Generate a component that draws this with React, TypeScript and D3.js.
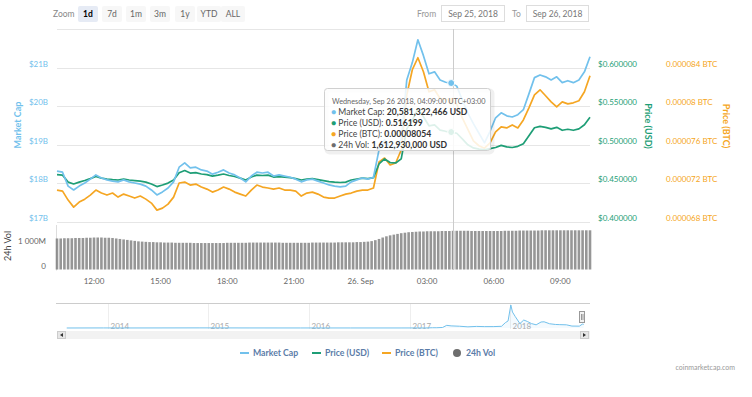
import React from 'react';
import * as d3 from 'd3';

// 15-minute samples starting Sep 25 2018 10:20 (chart local time)
const start = Date.UTC(2018, 8, 25, 10, 20);
const lineStepMin = 15;
const volStepMin = 10;

// market cap, billions USD
const marketCap = [
  18.32, 18.29, 17.93, 17.83, 17.93, 18.01, 18.11, 18.22, 18.14, 18.09,
  18.06, 18.04, 18.09, 18.04, 18.01, 17.98, 17.93, 17.83, 17.70, 17.78,
  17.88, 18.04, 18.42, 18.53, 18.40, 18.42, 18.35, 18.32, 18.24, 18.29,
  18.35, 18.27, 18.22, 18.14, 18.04, 18.19, 18.29, 18.27, 18.29, 18.19,
  18.22, 18.19, 18.16, 18.11, 18.04, 18.09, 18.11, 18.06, 18.01, 17.96,
  17.93, 17.91, 17.93, 18.04, 18.09, 18.14, 18.11, 18.16, 18.87, 19.13,
  18.94, 18.92, 19.13, 20.68, 21.13, 21.72, 21.31, 20.84, 20.89, 20.68,
  20.62, 20.60, 20.52, 20.16, 19.82, 19.55, 19.30, 19.05, 19.35, 19.70,
  19.83, 19.75, 19.72, 19.78, 19.91, 20.32, 20.74, 20.81, 20.76, 20.68,
  20.76, 20.61, 20.66, 20.61, 20.68, 20.89, 21.28,
];

const priceUsd = [
  0.4614, 0.4607, 0.4517, 0.4492, 0.4517, 0.4537, 0.4562, 0.4589, 0.4569, 0.4557,
  0.4549, 0.4544, 0.4557, 0.4544, 0.4537, 0.4529, 0.4517, 0.4492, 0.4459, 0.4479,
  0.4504, 0.4544, 0.4639, 0.4667, 0.4634, 0.4639, 0.4622, 0.4614, 0.4594, 0.4607,
  0.4622, 0.4602, 0.4589, 0.4569, 0.4544, 0.4582, 0.4607, 0.4602, 0.4607, 0.4582,
  0.4589, 0.4582, 0.4574, 0.4562, 0.4544, 0.4557, 0.4562, 0.4549, 0.4537, 0.4524,
  0.4517, 0.4512, 0.4517, 0.4544, 0.4557, 0.4569, 0.4562, 0.4574, 0.4752, 0.4817,
  0.4770, 0.4765, 0.4817, 0.5206, 0.5319, 0.5467, 0.5364, 0.5246, 0.5259, 0.5190,
  0.5175, 0.5165, 0.5150, 0.5076, 0.5000, 0.4960, 0.4945, 0.4935, 0.4950, 0.4965,
  0.4993, 0.4973, 0.4965, 0.4980, 0.5013, 0.5116, 0.5221, 0.5238, 0.5226, 0.5206,
  0.5226, 0.5188, 0.5201, 0.5188, 0.5206, 0.5259, 0.5356,
];

const priceBtc = [
  0.00007131, 0.00007120, 0.00007027, 0.00006954, 0.00007006, 0.00007037, 0.00007079, 0.00007131, 0.00007100, 0.00007079,
  0.00007100, 0.00007058, 0.00007089, 0.00007069, 0.00007048, 0.00007069, 0.00007037, 0.00006996, 0.00006923, 0.00006944,
  0.00006985, 0.00007058, 0.00007204, 0.00007214, 0.00007183, 0.00007193, 0.00007162, 0.00007141, 0.00007110, 0.00007131,
  0.00007162, 0.00007141, 0.00007110, 0.00007089, 0.00007069, 0.00007131, 0.00007183, 0.00007162, 0.00007152, 0.00007141,
  0.00007152, 0.00007131, 0.00007131, 0.00007120, 0.00007069, 0.00007100, 0.00007110, 0.00007089, 0.00007058, 0.00007048,
  0.00007048, 0.00007069, 0.00007089, 0.00007100, 0.00007120, 0.00007131, 0.00007131, 0.00007152, 0.00007422, 0.00007463,
  0.00007391, 0.00007411, 0.00007546, 0.00008118, 0.00008378, 0.00008502, 0.00008357, 0.00008149, 0.00008170, 0.00008080,
  0.00008070, 0.00008055, 0.00008020, 0.00007879, 0.00007760, 0.00007640, 0.00007590, 0.00007565, 0.00007620, 0.00007733,
  0.00007785, 0.00007775, 0.00007806, 0.00007775, 0.00007858, 0.00007983, 0.00008118, 0.00008170, 0.00008108, 0.00008045,
  0.00007993, 0.00008045, 0.00008024, 0.00008035, 0.00008056, 0.00008149, 0.00008315,
];

// 24h volume, billions USD, 10-minute samples
const volume24h = [
  1.29, 1.29, 1.30, 1.30, 1.30, 1.31, 1.31, 1.31, 1.32, 1.32, 1.33, 1.33,
  1.33, 1.32, 1.32, 1.31, 1.29, 1.27, 1.25, 1.23, 1.21, 1.19, 1.17, 1.16,
  1.15, 1.14, 1.14, 1.13, 1.13, 1.12, 1.12, 1.12, 1.11, 1.11, 1.11, 1.11,
  1.11, 1.10, 1.10, 1.10, 1.10, 1.10, 1.10, 1.10, 1.10, 1.10, 1.11, 1.11,
  1.11, 1.11, 1.11, 1.11, 1.12, 1.12, 1.12, 1.12, 1.12, 1.12, 1.12, 1.12,
  1.12, 1.11, 1.11, 1.11, 1.11, 1.11, 1.11, 1.11, 1.11, 1.12, 1.12, 1.12,
  1.12, 1.12, 1.12, 1.12, 1.13, 1.13, 1.13, 1.13, 1.13, 1.14, 1.14, 1.15,
  1.16, 1.18, 1.22, 1.27, 1.33, 1.38, 1.42, 1.45, 1.48, 1.51, 1.53, 1.55,
  1.56, 1.57, 1.58, 1.58, 1.59, 1.59, 1.59, 1.59, 1.60, 1.60, 1.60, 1.61,
  1.61, 1.61, 1.61, 1.61, 1.60, 1.60, 1.60, 1.60, 1.60, 1.60, 1.60, 1.60,
  1.60, 1.61, 1.61, 1.61, 1.61, 1.62, 1.62, 1.62, 1.62, 1.62, 1.62, 1.63,
  1.63, 1.63, 1.63, 1.63, 1.63, 1.63, 1.63, 1.63, 1.63, 1.63, 1.63, 1.63,
  1.63,
];

// navigator: all-time market cap, billions USD
const navDates = [
  '2013-08-04', '2013-12-15', '2014-03-01', '2014-12-01', '2015-06-01', '2015-12-01',
  '2016-06-01', '2016-12-01', '2017-03-01', '2017-03-25', '2017-04-10', '2017-05-01',
  '2017-05-16', '2017-06-01', '2017-07-01', '2017-08-01', '2017-09-01', '2017-10-01',
  '2017-11-01', '2017-12-01', '2017-12-15', '2017-12-25', '2018-01-04', '2018-01-10',
  '2018-01-20', '2018-02-06', '2018-02-20', '2018-03-05', '2018-03-20', '2018-04-06',
  '2018-04-24', '2018-05-05', '2018-05-25', '2018-06-15', '2018-07-01', '2018-07-25',
  '2018-08-14', '2018-09-10', '2018-09-21', '2018-09-26',
];
const navCaps = [
  0.05, 0.4, 0.15, 0.7, 0.3, 0.2,
  0.25, 0.24, 0.3, 1.5, 1.5, 3.0,
  15, 12, 10, 6.6, 9, 7.8,
  7.9, 9.5, 30, 40, 130, 90,
  65, 25, 45, 37, 25, 18,
  34, 35, 24, 20, 19, 18,
  11, 10.5, 22, 20.6,
];
const navYears = [2014, 2015, 2016, 2017, 2018];

const mcapTicks = [17, 18, 19, 20, 21];
const usdTicks = [0.4, 0.45, 0.5, 0.55, 0.6];
const btcTicks = [0.000068, 0.000072, 0.000076, 0.00008, 0.000084];
const btcTickLabels = ['0.000068', '0.000072', '0.000076', '0.00008', '0.000084'];
const zoomButtons = ['1d', '7d', '1m', '3m', '1y', 'YTD', 'ALL'];

const tooltipHeader = 'Wednesday, Sep 26 2018, 04:09:00 UTC+03:00';
const tooltipTime = Date.UTC(2018, 8, 26, 4, 9);
const tooltipRows = [
  { label: 'Market Cap: ', value: '20,581,322,466 USD' },
  { label: 'Price (USD): ', value: '0.516199' },
  { label: 'Price (BTC): ', value: '0.00008054' },
  { label: '24h Vol: ', value: '1,612,930,000 USD' },
];
const legendNames = ['Market Cap', 'Price (USD)', 'Price (BTC)', '24h Vol'];

const C_MCAP = '#72c1ec';
const C_USD = '#1e9e76';
const C_BTC = '#f5a623';
const C_VOL = '#6e6e6e';
const FONT = 'Lato, "Open Sans", sans-serif';

export default function App() {
  const W = 752, H = 397;
  const left = 57, right = 590;
  const top = 29, bottom = 222;
  const vTop = 225, vBottom = 269.5;

  const x = d3.scaleUtc()
    .domain([new Date(start), new Date(start + 24 * 3600e3)])
    .range([left, right]);
  const yM = d3.scaleLinear().domain([17, 22]).range([bottom, top]);
  const yU = d3.scaleLinear().domain([0.4, 0.65]).range([bottom, top]);
  const yB = d3.scaleLinear().domain([0.000068, 0.000088]).range([bottom, top]);
  const yV = d3.scaleLinear().domain([0, 1.85]).range([vBottom, vTop]);

  const tAt = (i: number) => new Date(start + i * lineStepMin * 60e3);
  const line = (vals: number[], y: d3.ScaleLinear<number, number>) =>
    d3.line<number>().x((_, i) => x(tAt(i))).y((d) => y(d))(vals) || '';

  const ticks = d3.utcHour.every(3)!.range(x.domain()[0], x.domain()[1]);
  const fmtTick = (d: Date) => (d.getUTCHours() === 0 ? d3.utcFormat('%-d. %b')(d) : d3.utcFormat('%H:%M')(d));

  const barW = 2.6;
  const volX = (i: number) => x(new Date(start + i * volStepMin * 60e3));

  // navigator
  const xN = d3.scaleUtc()
    .domain([new Date(Date.UTC(2014, 0, 1)), new Date(Date.UTC(2018, 0, 1))])
    .range([108, 510]);
  const yN = d3.scaleLinear().domain([0, 130]).range([328, 305]);
  const navParsed = navDates.map((d) => new Date(d + 'T00:00:00Z'));
  const navArea = d3.area<number>()
    .x((_, i) => xN(navParsed[i]))
    .y0(328)
    .y1((d) => yN(d))(navCaps) || '';
  const navLine = d3.line<number>()
    .x((_, i) => xN(navParsed[i]))
    .y((d) => yN(d))(navCaps) || '';

  const hx = Math.round(x(new Date(tooltipTime))) + 0.5;
  const hi = Math.round((tooltipTime - start) / (lineStepMin * 60e3));

  const legendX = [240, 312, 382, 457];
  const legendColors = [C_MCAP, C_USD, C_BTC, C_VOL];

  return (
    <svg width={W} height={H} style={{ position: 'absolute', left: 0, top: 0, background: '#fff' }} fontFamily={FONT}>
      {/* range selector */}
      <text x={53} y={17} fontSize={8.5} fill="#888">Zoom</text>
      {zoomButtons.map((b, i) => {
        const cx = [88, 112, 136, 160, 185, 209, 233][i];
        const w = b.length > 2 ? 24 : 20;
        return (
          <g key={b}>
            <rect x={cx - w / 2} y={6} width={w} height={16} rx={2} fill={i === 0 ? '#e6ebf5' : '#f7f7f7'} />
            <text x={cx} y={17} fontSize={8.5} textAnchor="middle" fill={i === 0 ? '#000' : '#666'} fontWeight={i === 0 ? 'bold' : 'normal'}>{b}</text>
          </g>
        );
      })}
      <text x={417} y={17} fontSize={8.5} fill="#999">From</text>
      <rect x={441.5} y={5.5} width={63} height={16} fill="#fff" stroke="#ddd" />
      <text x={473} y={17} fontSize={8.5} fill="#777" textAnchor="middle">Sep 25, 2018</text>
      <text x={512} y={17} fontSize={8.5} fill="#999">To</text>
      <rect x={526.5} y={5.5} width={62} height={16} fill="#fff" stroke="#ddd" />
      <text x={557.5} y={17} fontSize={8.5} fill="#777" textAnchor="middle">Sep 26, 2018</text>

      {/* grid */}
      {[17, 18, 19, 20, 21, 22].map((v) => (
        <line key={v} x1={left} x2={right} y1={Math.round(yM(v)) + 0.5} y2={Math.round(yM(v)) + 0.5} stroke="#e6e6e6" />
      ))}

      {/* left axis */}
      {mcapTicks.map((v) => (
        <text key={v} x={48} y={yM(v) - 1} fontSize={8} fill={C_MCAP} textAnchor="end">{`$${v}B`}</text>
      ))}
      <text transform={`translate(21,125) rotate(-90)`} fontSize={9} fill={C_MCAP} textAnchor="middle" fontWeight="bold">Market Cap</text>

      {/* right axes */}
      {usdTicks.map((v) => (
        <text key={v} x={598} y={yU(v) - 1} fontSize={8} fill={C_USD}>{`$${v.toFixed(6)}`}</text>
      ))}
      <text transform={`translate(645,126) rotate(90)`} fontSize={9} fill={C_USD} textAnchor="middle" fontWeight="bold">Price (USD)</text>
      {btcTicks.map((v, i) => (
        <text key={v} x={666} y={yB(v) - 1} fontSize={8} fill={C_BTC}>{`${btcTickLabels[i]} BTC`}</text>
      ))}
      <text transform={`translate(723,126) rotate(90)`} fontSize={9} fill={C_BTC} textAnchor="middle" fontWeight="bold">Price (BTC)</text>

      {/* volume pane */}
      <line x1={left - 0.5} x2={left - 0.5} y1={vTop} y2={vBottom + 1} stroke="#ddd" />
      {volume24h.map((v, i) => (
        <rect key={i} x={volX(i) - barW / 2} y={yV(v)} width={barW} height={vBottom - yV(v)} fill={C_VOL} opacity={0.72} />
      ))}
      <text x={46} y={yV(1) - 1} fontSize={8} fill="#666" textAnchor="end">1 000M</text>
      <text x={46} y={yV(0) - 1} fontSize={8} fill="#666" textAnchor="end">0</text>
      <text transform={`translate(11,246) rotate(-90)`} fontSize={9} fill="#444" textAnchor="middle">24h Vol</text>

      {/* x axis labels */}
      {ticks.map((d) => (
        <text key={+d} x={x(d)} y={284} fontSize={8} fill="#666" textAnchor="middle">{fmtTick(d)}</text>
      ))}

      {/* crosshair */}
      <line x1={hx} x2={hx} y1={top} y2={vBottom} stroke="#ccc" />

      {/* series */}
      <path d={line(priceBtc, yB)} fill="none" stroke={C_BTC} strokeWidth={1.7} strokeLinejoin="round" />
      <path d={line(priceUsd, yU)} fill="none" stroke={C_USD} strokeWidth={1.7} strokeLinejoin="round" />
      <path d={line(marketCap, yM)} fill="none" stroke={C_MCAP} strokeWidth={1.7} strokeLinejoin="round" />

      {/* hover markers */}
      <circle cx={x(tAt(hi))} cy={yB(priceBtc[hi])} r={3.5} fill={C_BTC} stroke="#fff" />
      <circle cx={x(tAt(hi))} cy={yU(priceUsd[hi])} r={3.5} fill={C_USD} stroke="#fff" />
      <circle cx={x(tAt(hi))} cy={yM(marketCap[hi])} r={3.5} fill={C_MCAP} stroke="#fff" />

      {/* tooltip */}
      <rect x={325.5} y={89.5} width={166} height={62} rx={3} fill="none" stroke="#000" strokeOpacity={0.06} strokeWidth={4} transform="translate(1,1)" />
      <rect x={324.5} y={88.5} width={166} height={62} rx={3} fill="#fff" fillOpacity={0.85} stroke="#d0d0d0" />
      <text x={332} y={104} fontSize={7.3} fill="#666">{tooltipHeader}</text>
      {tooltipRows.map((r, i) => (
        <text key={r.label} x={331} y={114.5 + i * 11} fontSize={8.6}>
          <tspan fill={legendColors[i]}>● </tspan>
          <tspan fill="#444">{r.label}</tspan>
          <tspan fill="#333" fontWeight="bold">{r.value}</tspan>
        </text>
      ))}

      {/* navigator */}
      <line x1={56} x2={right} y1={303.5} y2={303.5} stroke="#ccc" />
      {navYears.map((yr) => {
        const gx = Math.round(xN(new Date(Date.UTC(yr, 0, 1)))) + 0.5;
        return (
          <g key={yr}>
            <line x1={gx} x2={gx} y1={304} y2={329} stroke="#eee" />
            <text x={gx + 2} y={329} fontSize={8} fill="#aaa">{yr}</text>
          </g>
        );
      })}
      <path d={navArea} fill={C_MCAP} fillOpacity={0.08} />
      <path d={navLine} fill="none" stroke={C_MCAP} strokeWidth={1} />
      <rect x={579.5} y={311.5} width={5} height={11} fill="#f2f2f2" stroke="#999" />
      <line x1={581.5} x2={581.5} y1={314} y2={320} stroke="#999" />
      <line x1={583} x2={583} y1={314} y2={320} stroke="#999" />

      {/* scrollbar */}
      <rect x={left} y={331} width={right - left} height={8} fill="#f2f2f2" />
      <rect x={left + 0.5} y={331.5} width={8} height={7} fill="#e6e6e6" stroke="#ccc" />
      <path d={`M${left + 6},333 L${left + 3},335 L${left + 6},337 Z`} fill="#333" />
      <rect x={right - 9.5} y={331.5} width={8} height={7} fill="#e6e6e6" stroke="#ccc" />
      <path d={`M${right - 7},333 L${right - 4},335 L${right - 7},337 Z`} fill="#333" />

      {/* legend */}
      {legendNames.map((n, i) => (
        <g key={n}>
          {i < 3 ? (
            <line x1={legendX[i]} x2={legendX[i] + 9} y1={353} y2={353} stroke={legendColors[i]} strokeWidth={2} />
          ) : (
            <circle cx={legendX[i]} cy={353} r={4} fill={legendColors[i]} />
          )}
          <text x={legendX[i] + (i < 3 ? 13 : 9)} y={356} fontSize={8.7} fontWeight="bold" fill="#5b7ca8">{n}</text>
        </g>
      ))}

      <text x={735} y={370} fontSize={7} fill="#999" textAnchor="end">coinmarketcap.com</text>
    </svg>
  );
}
